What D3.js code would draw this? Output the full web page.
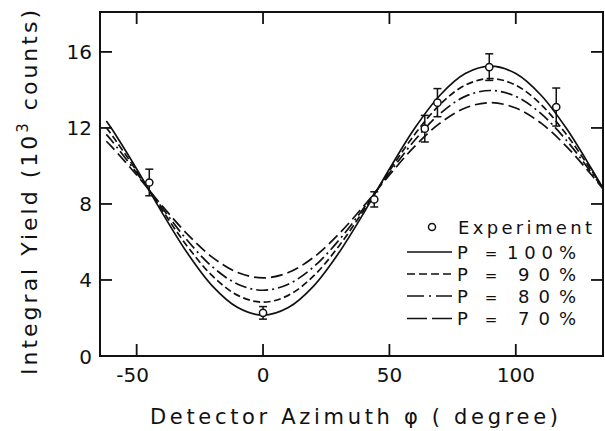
<!DOCTYPE html>
<html>
<head>
<meta charset="utf-8">
<script src="https://d3js.org/d3.v7.min.js"></script>
<style>
  body { margin: 0; background: #fff; }
  text { font-family: "DejaVu Sans", "Liberation Sans", sans-serif; fill: #111; }
</style>
</head>
<body>
<div id="chart"></div>
<script>
var angles = [-62, -60, -50, -40, -30, -20, -10, 0, 10, 20, 30, 40, 50, 60, 70, 80, 90, 100, 110, 120, 130, 135];
// integral yield, 10^3 counts
var p100 = [12.36, 11.98, 9.84, 7.56, 5.43, 3.68, 2.55, 2.15, 2.55, 3.68, 5.43, 7.56, 9.84, 11.98, 13.72, 14.86, 15.25, 14.86, 13.72, 11.98, 9.84, 8.70];
var p90  = [12.01, 11.66, 9.74, 7.70, 5.78, 4.21, 3.19, 2.83, 3.19, 4.21, 5.78, 7.70, 9.74, 11.66, 13.23, 14.25, 14.60, 14.25, 13.23, 11.66, 9.74, 8.72];
var p80  = [11.66, 11.35, 9.63, 7.81, 6.09, 4.69, 3.78, 3.46, 3.78, 4.69, 6.09, 7.81, 9.63, 11.35, 12.75, 13.66, 13.97, 13.66, 12.75, 11.35, 9.63, 8.72];
var p70  = [11.30, 11.03, 9.52, 7.92, 6.42, 5.19, 4.39, 4.11, 4.39, 5.19, 6.42, 7.92, 9.52, 11.03, 12.25, 13.05, 13.33, 13.05, 12.25, 11.03, 9.52, 8.72];

// experiment points
var expAngle = [-45, 0, 44, 64, 69, 89.5, 116];
var expYield = [9.13, 2.27, 8.24, 11.96, 13.33, 15.2, 13.1];
var expError = [0.7, 0.33, 0.4, 0.7, 0.74, 0.7, 1.0];

var xTicks = [-50, 0, 50, 100];
var yTicks = [0, 4, 8, 12, 16];
var legendLabels = ["100%", "90%", "80%", "70%"];

var width = 605, height = 431;
var margin = { top: 12, right: 2, bottom: 75, left: 100 };

var svg = d3.select("#chart").append("svg")
    .attr("width", width).attr("height", height);

var x = d3.scaleLinear().domain([-64.5, 134.5]).range([margin.left, width - margin.right]);
var y = d3.scaleLinear().domain([0, 18.1]).range([height - margin.bottom, margin.top]);

var x0 = margin.left, x1 = width - margin.right;
var y0 = height - margin.bottom, y1 = margin.top;

svg.append("clipPath").attr("id", "clip")
  .append("rect").attr("x", x0).attr("y", y1).attr("width", x1 - x0).attr("height", y0 - y1);

// ticks (inward on all four sides)
var tl = 12;
var g = svg.append("g").attr("stroke", "#111").attr("stroke-width", 1.8);
xTicks.forEach(function(t) {
    g.append("line").attr("x1", x(t)).attr("x2", x(t)).attr("y1", y0).attr("y2", y0 - tl);
    g.append("line").attr("x1", x(t)).attr("x2", x(t)).attr("y1", y1).attr("y2", y1 + tl);
});
yTicks.filter(function(t) { return t > 0; }).forEach(function(t) {
    g.append("line").attr("x1", x0).attr("x2", x0 + tl).attr("y1", y(t)).attr("y2", y(t));
    g.append("line").attr("x1", x1).attr("x2", x1 - tl).attr("y1", y(t)).attr("y2", y(t));
});

// frame
svg.append("rect").attr("x", x0).attr("y", y1).attr("width", x1 - x0).attr("height", y0 - y1)
    .attr("fill", "none").attr("stroke", "#111").attr("stroke-width", 2);

// tick labels
xTicks.forEach(function(t) {
    svg.append("text").attr("x", x(t) - (t < 0 ? 4 : 0)).attr("y", y0 + 26)
        .attr("text-anchor", "middle").style("font-size", "20px").text(t);
});
yTicks.forEach(function(t) {
    svg.append("text").attr("x", 92).attr("y", y(t) + 7.5)
        .attr("text-anchor", "end").style("font-size", "20px").text(t);
});

// theory curves
var series = [
    { vals: p100, dash: null },
    { vals: p90, dash: "7,3.5" },
    { vals: p80, dash: "12,4,2,4" },
    { vals: p70, dash: "12,5" }
];
var line = d3.line()
    .x(function(d) { return x(d[0]); })
    .y(function(d) { return y(d[1]); })
    .curve(d3.curveCatmullRom);

var curves = svg.append("g").attr("clip-path", "url(#clip)");
series.forEach(function(s) {
    curves.append("path")
        .datum(angles.map(function(a, i) { return [a, s.vals[i]]; }))
        .attr("d", line)
        .attr("fill", "none")
        .attr("stroke", "#111")
        .attr("stroke-width", 1.7)
        .attr("stroke-dasharray", s.dash);
});

// experiment with error bars
var pts = svg.append("g").attr("stroke", "#111").attr("stroke-width", 1.5).attr("fill", "none");
expAngle.forEach(function(a, i) {
    var cx = x(a), lo = y(expYield[i] - expError[i]), hi = y(expYield[i] + expError[i]);
    pts.append("line").attr("x1", cx).attr("x2", cx).attr("y1", lo).attr("y2", hi);
    pts.append("line").attr("x1", cx - 4).attr("x2", cx + 4).attr("y1", lo).attr("y2", lo);
    pts.append("line").attr("x1", cx - 4).attr("x2", cx + 4).attr("y1", hi).attr("y2", hi);
    pts.append("circle").attr("cx", cx).attr("cy", y(expYield[i])).attr("r", 3.6).attr("fill", "#fff");
});

// legend
var legend = svg.append("g");
legend.append("circle").attr("cx", 432).attr("cy", 227).attr("r", 3.5)
    .attr("fill", "none").attr("stroke", "#111").attr("stroke-width", 1.5);
legend.append("text").attr("x", 458).attr("y", 233.5).attr("textLength", 134)
    .style("font-size", "18px").text("Experiment");

var legendDash = [null, "8,4", "17,5,2,5", "20,5"];
var rowY = [252, 274, 296, 318.5];
var numX = [507, 518, 518, 518];
legendLabels.forEach(function(lab, i) {
    var yy = rowY[i];
    legend.append("line").attr("x1", 407).attr("x2", 452).attr("y1", yy).attr("y2", yy)
        .attr("stroke", "#111").attr("stroke-width", 1.6).attr("stroke-dasharray", legendDash[i]);
    legend.append("text").attr("x", 457).attr("y", yy + 6.5).style("font-size", "18px").text("P");
    legend.append("text").attr("x", 491).attr("y", yy + 6.5).attr("text-anchor", "middle")
        .style("font-size", "15px").text("=");
    legend.append("text").attr("x", numX[i]).attr("y", yy + 6.5)
        .attr("textLength", 576 - numX[i]).style("font-size", "18px").text(lab);
});

// axis titles
svg.append("text").attr("x", 150).attr("y", 424).attr("textLength", 408)
    .style("font-size", "21px").text("Detector Azimuth \u03c6 ( degree)");

var yt = svg.append("text").attr("transform", "translate(37,375) rotate(-90)")
    .attr("textLength", 365).style("font-size", "22px");
yt.append("tspan").text("Integral Yield (10");
yt.append("tspan").attr("dy", -9).style("font-size", "15px").text("3");
yt.append("tspan").attr("dy", 9).text(" counts)");
</script>
</body>
</html>
